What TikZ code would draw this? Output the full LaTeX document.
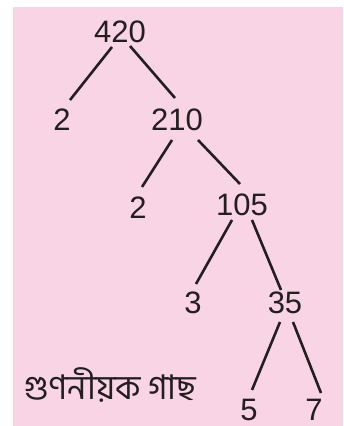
\documentclass[tikz,border=0pt]{standalone}
\usepackage{fontspec}
\setmainfont{Liberation Sans}
\newfontfamily\bnfont[Script=Bengali]{Hind Siliguri}
\usetikzlibrary{calc}
\definecolor{bgpink}{HTML}{F9D4E5}
\definecolor{ink}{HTML}{231F20}
\tikzset{
  num/.style={inner sep=0pt, text=ink, font=\fontsize{31}{36}\selectfont},
  edge/.style={draw=ink, line width=2.6pt},
}
\begin{document}
\begin{tikzpicture}[x=1pt,y=1pt]
\useasboundingbox (0,0) rectangle (343,426);
\fill[bgpink] (13,0) rectangle (343,419);
\node[num] (n420) at (120,394) {420};
\node[num] (n2a) at (62,306) {2};
\node[num] (n210) at (177,306) {210};
\node[num] (n2b) at (138,218) {2};
\node[num] (n105) at (242,221) {105};
\node[num] (n3) at (193,123) {3};
\node[num] (n35) at (285,123) {35};
\node[num] (n5) at (249,16) {5};
\node[num] (n7) at (314,16) {7};
\node[inner sep=0pt, anchor=west, text=ink, font=\bnfont\fontsize{34}{40}\selectfont] (lbl) at (24,41) {গুণনীয়ক গাছ};
\draw[edge] ($(n420)+(-8,-15)$) -- ($(n2a)+(8,20)$);
\draw[edge] ($(n420)+(10,-14)$) -- ($(n210)+(-2,22)$);
\draw[edge] ($(n210)+(-5,-20)$) -- ($(n2b)+(4,21)$);
\draw[edge] ($(n210)+(21,-20)$) -- ($(n105)+(-2,21)$);
\draw[edge] ($(n105)+(-10,-15)$) -- ($(n3)+(3,19)$);
\draw[edge] ($(n105)+(10,-15)$) -- ($(n35)+(-4,13)$);
\draw[edge] ($(n35)+(-5,-19)$) -- ($(n5)+(3,20)$);
\draw[edge] ($(n35)+(8,-19)$) -- ($(n7)+(7,17)$);
\end{tikzpicture}
\end{document}
